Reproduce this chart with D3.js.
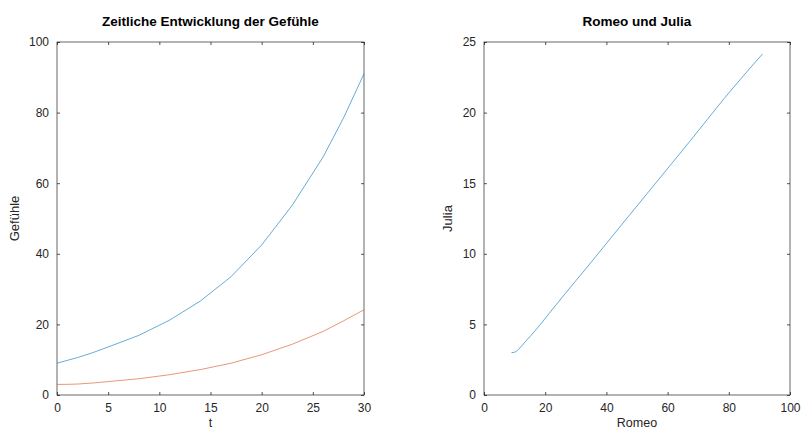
<!DOCTYPE html>
<html><head><meta charset="utf-8">
<script src="https://cdn.jsdelivr.net/npm/d3@7"></script>
<style>
html,body{margin:0;padding:0;background:#fff;}
svg{display:block;font-family:"Liberation Sans",Arial,Helvetica,sans-serif;}
</style></head><body>
<svg id="chart" width="802" height="430"></svg>
<script>
// Data
const t      = [0, 1, 2, 3.5, 5, 8, 11, 14, 17, 20, 23, 26, 28, 30];
const romeo  = [9.0, 9.8, 10.6, 12.0, 13.6, 16.9, 21.2, 26.6, 33.5, 42.5, 53.8, 67.4, 78.5, 91.0];
const julia  = [3.0, 3.02, 3.1, 3.4, 3.8, 4.6, 5.75, 7.2, 9.0, 11.4, 14.4, 18.0, 21.0, 24.15];
const leftXTicks  = [0, 5, 10, 15, 20, 25, 30];
const leftYTicks  = [0, 20, 40, 60, 80, 100];
const rightXTicks = [0, 20, 40, 60, 80, 100];
const rightYTicks = [0, 5, 10, 15, 20, 25];
const titles = ["Zeitliche Entwicklung der Gefühle", "Romeo und Julia"];
const xLabels = ["t", "Romeo"];
const yLabels = ["Gefühle", "Julia"];
const colors = ["#0072BD", "#D95319"];

const svg = d3.select("#chart");
const txt = "#262626";
const boxCol = "#262626";

function panel(cfg) {
  const {x0, x1, y0, y1, xDom, yDom, xTicks, yTicks, title, xLabel, yLabel, yLabOff} = cfg;
  const x = d3.scaleLinear().domain(xDom).range([x0, x1]);
  const y = d3.scaleLinear().domain(yDom).range([y1, y0]);
  const g = svg.append("g");
  const tickLen = 3;
  const ax = (gen, tr) => {
    const a = g.append("g").attr("transform", tr).call(gen);
    a.select(".domain").remove();
    a.selectAll("line").attr("stroke", boxCol).attr("stroke-width", 0.8);
    a.selectAll("text").attr("fill", txt).style("font-size", "12px").style("font-family", "'Liberation Sans',Arial,sans-serif");
    return a;
  };
  ax(d3.axisBottom(x).tickValues(xTicks).tickSize(-tickLen).tickPadding(8.5).tickFormat(d3.format("d")), `translate(0,${y1})`);
  ax(d3.axisTop(x).tickValues(xTicks).tickSize(-tickLen).tickFormat(""), `translate(0,${y0})`);
  ax(d3.axisLeft(y).tickValues(yTicks).tickSize(-tickLen).tickPadding(8).tickFormat(d3.format("d")), `translate(${x0},0)`);
  ax(d3.axisRight(y).tickValues(yTicks).tickSize(-tickLen).tickFormat(""), `translate(${x1},0)`);
  // box
  g.append("rect").attr("x", x0).attr("y", y0).attr("width", x1 - x0).attr("height", y1 - y0)
    .attr("fill", "none").attr("stroke", boxCol).attr("stroke-width", 0.7);
  // title
  g.append("text").attr("x", (x0 + x1) / 2).attr("y", 26).attr("text-anchor", "middle")
    .attr("fill", "#000").style("font-size", "13.5px").style("font-weight", "bold").text(title);
  g.append("text").attr("x", (x0 + x1) / 2).attr("y", 427).attr("text-anchor", "middle")
    .attr("fill", txt).style("font-size", "12.5px").text(xLabel);
  g.append("text").attr("transform", `translate(${x0 - yLabOff},${(y0 + y1) / 2}) rotate(-90)`)
    .attr("text-anchor", "middle").attr("fill", txt).style("font-size", "13px").text(yLabel);
  return {g, x, y};
}

const L = panel({x0: 57, x1: 364, y0: 42, y1: 395, xDom: [0, 30], yDom: [0, 100],
  xTicks: leftXTicks, yTicks: leftYTicks, title: titles[0], xLabel: xLabels[0], yLabel: yLabels[0], yLabOff: 38});
const R = panel({x0: 484, x1: 790, y0: 42, y1: 395, xDom: [0, 100], yDom: [0, 25],
  xTicks: rightXTicks, yTicks: rightYTicks, title: titles[1], xLabel: xLabels[1], yLabel: yLabels[1], yLabOff: 32});

const idx = d3.range(t.length);
const lineL1 = d3.line().x(i => L.x(t[i])).y(i => L.y(romeo[i]));
const lineL2 = d3.line().x(i => L.x(t[i])).y(i => L.y(julia[i]));
L.g.append("path").attr("d", lineL1(idx)).attr("fill", "none").attr("stroke", colors[0]).attr("stroke-width", 0.8).attr("opacity", 0.75);
L.g.append("path").attr("d", lineL2(idx)).attr("fill", "none").attr("stroke", colors[1]).attr("stroke-width", 0.8).attr("opacity", 0.75);
const lineR = d3.line().curve(d3.curveMonotoneX).x(i => R.x(romeo[i])).y(i => R.y(julia[i]));
R.g.append("path").attr("d", lineR(idx)).attr("fill", "none").attr("stroke", colors[0]).attr("stroke-width", 0.8).attr("opacity", 0.75);
</script>
</body></html>
